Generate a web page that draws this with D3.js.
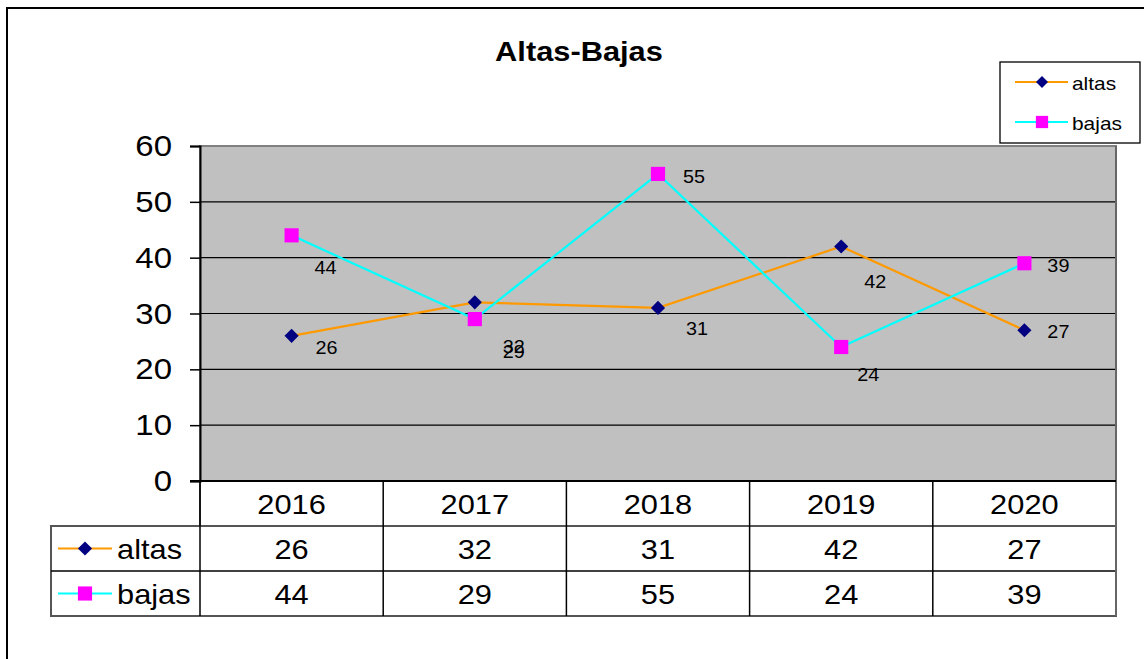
<!DOCTYPE html>
<html>
<head>
<meta charset="utf-8">
<script src="https://cdn.jsdelivr.net/npm/d3@7"></script>
<style>
  html, body { margin: 0; padding: 0; background: #fff; }
  svg { display: block; font-family: "Liberation Sans", Arial, sans-serif; }
</style>
</head>
<body>
<svg id="chart" width="1144" height="659"></svg>
<script>
// ---- data ----
const categories = ["2016", "2017", "2018", "2019", "2020"];
const altas = [26, 32, 31, 42, 27];
const bajas = [44, 29, 55, 24, 39];
const yTicks = [0, 10, 20, 30, 40, 50, 60];
const seriesNames = ["altas", "bajas"];
const title = "Altas-Bajas";

// ---- layout ----
const W = 1144, H = 659;
const plot = { left: 200, right: 1116, top: 146, bottom: 481 };
const rowH = 45;
const tableLeft = 51;
const stretch = 1.1;

const svg = d3.select("#chart");

const x = d3.scaleBand().domain(categories).range([plot.left, plot.right]).padding(0);
const y = d3.scaleLinear().domain([0, 60]).range([plot.bottom, plot.top]);
const cx = c => x(c) + x.bandwidth() / 2;

// outer frame
svg.append("rect").attr("x", 7).attr("y", 8).attr("width", W + 20).attr("height", H + 20)
  .attr("fill", "#fff").attr("stroke", "#000").attr("stroke-width", 2);

// title
svg.append("text").attr("x", 579).attr("y", 61).attr("text-anchor", "middle")
  .attr("font-size", 28).attr("font-weight", "bold").attr("fill", "#000").text(title);

// plot area
svg.append("rect").attr("x", plot.left).attr("y", plot.top)
  .attr("width", plot.right - plot.left).attr("height", plot.bottom - plot.top)
  .attr("fill", "#C0C0C0").attr("stroke", "#808080").attr("stroke-width", 2);

// gridlines
svg.append("g").selectAll("line").data(yTicks.filter(d => d > 0 && d < 60)).join("line")
  .attr("x1", plot.left).attr("x2", plot.right)
  .attr("y1", d => y(d)).attr("y2", d => y(d))
  .attr("stroke", "#000").attr("stroke-width", 1.2);

// y axis
const yAxis = d3.axisLeft(y).tickValues(yTicks).tickSize(10).tickPadding(18).tickFormat(d3.format("d"));
const ya = svg.append("g").attr("transform", `translate(${plot.left},0)`).call(yAxis);
ya.select(".domain").attr("stroke", "#000").attr("stroke-width", 2);
ya.selectAll(".tick line").attr("stroke", "#000").attr("stroke-width", 1.5);
ya.selectAll(".tick text").attr("font-size", 30).attr("fill", "#000")
  .attr("font-family", "Liberation Sans, Arial, sans-serif");

// series styles: diamond = square rotated 45 degrees
const styles = {
  altas: { line: "#FF9900", marker: "#000080", rot: 45, size: 100, lsize: 72 },
  bajas: { line: "#00FFFF", marker: "#FF00FF", rot: 0, size: 200, lsize: 150 }
};
const seriesData = { altas: altas, bajas: bajas };

const lineGen = d3.line().x((d, i) => cx(categories[i])).y(d => y(d));

seriesNames.forEach(name => {
  svg.append("path").datum(seriesData[name]).attr("d", lineGen)
    .attr("fill", "none").attr("stroke", styles[name].line).attr("stroke-width", 2.2);
});
seriesNames.forEach(name => {
  svg.append("g").selectAll("path").data(seriesData[name]).join("path")
    .attr("transform", (d, i) => `translate(${cx(categories[i])},${y(d)}) rotate(${styles[name].rot})`)
    .attr("d", d3.symbol().type(d3.symbolSquare).size(styles[name].size))
    .attr("fill", styles[name].marker);
});

// data labels (label placement offsets, as in the reference)
const labelOffsets = {
  altas: [[35, 12], [39, 45], [39, 21], [34, 35], [34, 2]],
  bajas: [[34, 33], [39, 33], [36, 3], [27, 28], [34, 3]]
};
seriesNames.forEach(name => {
  svg.append("g").selectAll("text").data(seriesData[name]).join("text")
    .attr("x", (d, i) => cx(categories[i]) + labelOffsets[name][i][0])
    .attr("y", (d, i) => y(d) + labelOffsets[name][i][1])
    .attr("text-anchor", "middle").attr("dominant-baseline", "central")
    .attr("font-size", 18).attr("fill", "#000").text(d => d);
});

// data table
const tbl = svg.append("g");
const t0 = plot.bottom;
tbl.append("rect").attr("x", plot.left).attr("y", t0).attr("width", plot.right - plot.left).attr("height", rowH)
  .attr("fill", "none").attr("stroke", "#000").attr("stroke-width", 1.3);
tbl.append("rect").attr("x", tableLeft).attr("y", t0 + rowH).attr("width", plot.right - tableLeft).attr("height", rowH * 2)
  .attr("fill", "none").attr("stroke", "#555").attr("stroke-width", 2);
tbl.append("line").attr("x1", tableLeft).attr("x2", plot.right).attr("y1", t0 + 2 * rowH).attr("y2", t0 + 2 * rowH)
  .attr("stroke", "#000").attr("stroke-width", 1.3);
tbl.append("line").attr("x1", plot.right).attr("x2", plot.right).attr("y1", plot.top).attr("y2", t0 + 3 * rowH)
  .attr("stroke", "#666").attr("stroke-width", 2);
tbl.selectAll("line.col").data(categories).join("line").attr("class", "col")
  .attr("x1", d => x(d)).attr("x2", d => x(d)).attr("y1", t0).attr("y2", t0 + 3 * rowH)
  .attr("stroke", "#000").attr("stroke-width", 1.5);
tbl.append("line").attr("x1", plot.left - 10).attr("x2", plot.right).attr("y1", t0).attr("y2", t0)
  .attr("stroke", "#000").attr("stroke-width", 2);

tbl.selectAll("text.cat").data(categories).join("text").attr("class", "cat")
  .attr("x", d => cx(d)).attr("y", t0 + rowH / 2 + 1)
  .attr("text-anchor", "middle").attr("dominant-baseline", "central")
  .attr("font-size", 28).attr("fill", "#000").text(d => d);

seriesNames.forEach((name, r) => {
  const rowY = t0 + rowH * (r + 1) + rowH / 2;
  tbl.append("g").selectAll("text").data(seriesData[name]).join("text")
    .attr("x", (d, i) => cx(categories[i])).attr("y", rowY + 1)
    .attr("text-anchor", "middle").attr("dominant-baseline", "central")
    .attr("font-size", 28).attr("fill", "#000").text(d => d);
  tbl.append("line").attr("x1", 58).attr("x2", 112).attr("y1", rowY).attr("y2", rowY)
    .attr("stroke", styles[name].line).attr("stroke-width", 2.2);
  tbl.append("path").attr("transform", `translate(85,${rowY}) rotate(${styles[name].rot})`)
    .attr("d", d3.symbol().type(d3.symbolSquare).size(styles[name].size)).attr("fill", styles[name].marker);
  tbl.append("text").attr("x", 117).attr("y", rowY + 1).attr("dominant-baseline", "central")
    .attr("font-size", 28).attr("fill", "#000").text(name);
});

// legend box
const lg = svg.append("g");
lg.append("rect").attr("x", 1000).attr("y", 62).attr("width", 140).attr("height", 81)
  .attr("fill", "#fff").attr("stroke", "#000").attr("stroke-width", 1.3);
seriesNames.forEach((name, r) => {
  const ly = 82 + r * 40;
  lg.append("line").attr("x1", 1015).attr("x2", 1068).attr("y1", ly).attr("y2", ly)
    .attr("stroke", styles[name].line).attr("stroke-width", 2.2);
  lg.append("path").attr("transform", `translate(1042,${ly}) rotate(${styles[name].rot})`)
    .attr("d", d3.symbol().type(d3.symbolSquare).size(styles[name].lsize)).attr("fill", styles[name].marker);
  lg.append("text").attr("x", 1072).attr("y", ly + 1).attr("dominant-baseline", "central")
    .attr("font-size", 19).attr("fill", "#000").text(name);
});

// slight horizontal stretch of all texts, as in the reference rendering
svg.selectAll("text").each(function () {
  const len = this.getComputedTextLength();
  d3.select(this).attr("textLength", len * stretch).attr("lengthAdjust", "spacingAndGlyphs");
});
</script>
</body>
</html>
